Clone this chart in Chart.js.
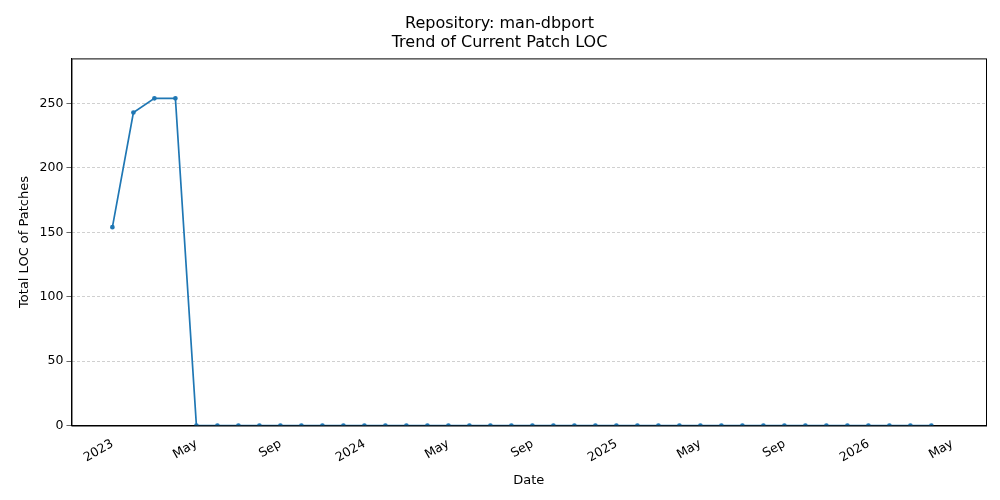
<!DOCTYPE html>
<html><head><meta charset="utf-8">
<script src="https://cdn.jsdelivr.net/npm/chart.js@4"></script>
<style>html,body{margin:0;padding:0;background:#fff}#w{width:1000px;height:500px}</style>
</head><body><div id="w"><canvas id="c"></canvas></div>
<script>
const monthNames = ["Jan","Feb","Mar","Apr","May","Jun","Jul","Aug","Sep","Oct","Nov","Dec"];
const startYear = 2023;
const locValues = [154,243,254,254,0,0,0,0,0,0,0,0,0,0,0,0,0,0,0,0,0,0,0,0,0,0,0,0,0,0,0,0,0,0,0,0,0,0,0,0];
const tickIndices = [0,4,8,12,16,20,24,28,32,36,40];
const points = locValues.map((v,i)=>({x:i,y:v}));
function tickLabel(i){const m=i%12;return m===0?String(startYear+i/12):monthNames[m];}
const frame={id:'frame',afterDraw(ch){const a=ch.chartArea,c=ch.ctx;c.save();c.strokeStyle='#000';c.lineWidth=1;c.strokeRect(a.left+0.5,a.top+0.5,a.right-a.left,a.bottom-a.top);c.restore();}};
new Chart(document.getElementById('c'),{
type:'line',
data:{datasets:[{data:points,borderColor:'#1f77b4',backgroundColor:'#1f77b4',borderWidth:1.7,pointRadius:1.5,pointHoverRadius:1.5,tension:0}]},
options:{responsive:true,maintainAspectRatio:false,animation:false,
layout:{padding:{left:13,right:14,top:8,bottom:8}},
plugins:{legend:{display:false},tooltip:{enabled:false},
title:{display:true,text:['Repository: man-dbport','Trend of Current Patch LOC'],color:'#000',font:{family:'DejaVu Sans',size:16,weight:'normal'},padding:{top:6,bottom:6}}},
scales:{
x:{type:'linear',min:-1.95,max:41.6,
afterBuildTicks:ax=>{ax.ticks=tickIndices.map(v=>({value:v}));},
ticks:{callback:v=>tickLabel(v),maxRotation:30,minRotation:30,color:'#000',font:{family:'DejaVu Sans',size:12.5},autoSkip:false},
grid:{display:false,drawTicks:true},border:{color:'#000'},
title:{display:true,text:'Date',color:'#000',font:{family:'DejaVu Sans',size:13}}},
y:{min:0,max:285,
afterBuildTicks:ax=>{ax.ticks=[0,50,100,150,200,250].map(v=>({value:v}));},
ticks:{color:'#000',font:{family:'DejaVu Sans',size:12.5}},
grid:{color:'#b0b0b0',lineWidth:0.6,tickColor:'#000',tickLength:5},
border:{color:'#000',dash:[3,2]},
title:{display:true,text:'Total LOC of Patches',color:'#000',font:{family:'DejaVu Sans',size:13}}}
}},plugins:[frame]});
</script></body></html>
